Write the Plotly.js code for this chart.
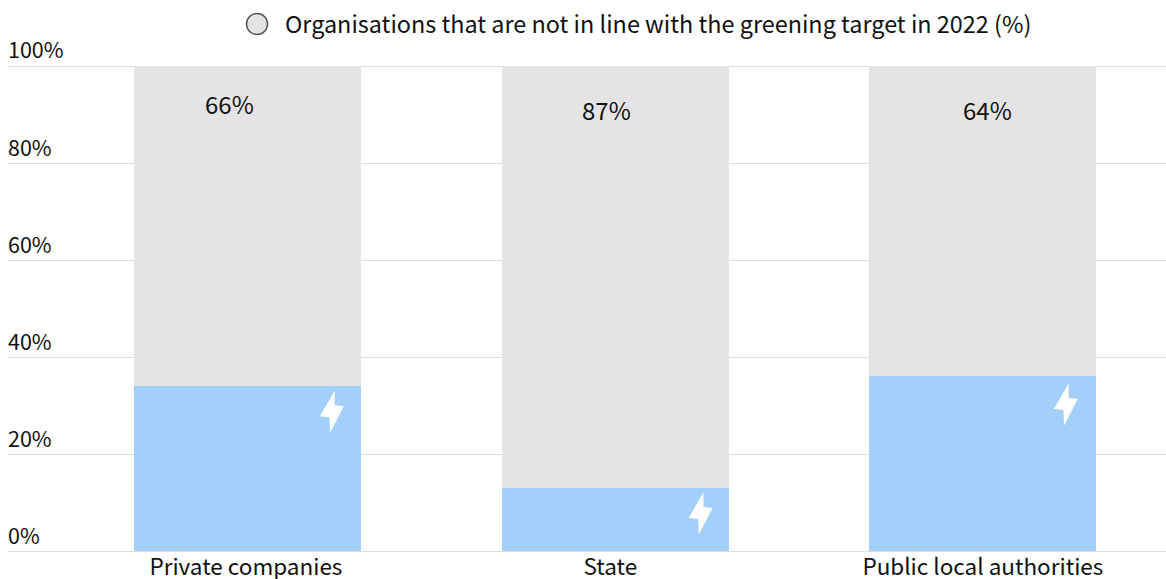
<!DOCTYPE html>
<html><head><meta charset="utf-8">
<script src="https://cdn.plot.ly/plotly-3.0.1.min.js"></script>
<style>html,body{margin:0;padding:0;background:#fff}#c{width:1166px;height:579px}</style>
</head><body><div id="c"></div>
<script>
const categories = ["Private companies", "State", "Public local authorities"];
const inLine = [34, 13, 36];
const notInLine = [66, 87, 64];
const yTicks = [0, 20, 40, 60, 80, 100];
const yTickText = ["0%", "20%", "40%", "60%", "80%", "100%"];
const legendText = "Organisations that are not in line with the greening target in 2022 (%)";
const labelShiftX = [-17.5, -8.5, 5];
const labelShiftY = [-37, -43, -43];
const catTickPos = [-0.004, 0.987, 2];
const boltDX = [-0.5, 0.5, -2];
const boltDY = [0, 0, -2.5];
const boltPts = [[87.8,-4.5],[73,-30],[82.5,-31],[83.2,-46.5],[97,-20],[87.8,-19]];
const FONT = '"Noto Sans CJK SC", "Noto Sans", sans-serif';

const traces = [
  {type:"bar", x:categories, y:inLine, marker:{color:"#a3cffb", line:{width:0}}, width:0.617, name:"In line", showlegend:false, hoverinfo:"skip"},
  {type:"bar", x:categories, y:notInLine, marker:{color:"#e4e4e4", line:{width:0}}, width:0.617, name:legendText, showlegend:false, hoverinfo:"skip"}
];
const yMin = -0.4, yMax = 100 + 66/4.85;
const py = p => (553 - p) / 553;
const annotations = categories.map((c,i)=>({
  x:c, y:100, xref:"x", yref:"y", text:notInLine[i]+"%", showarrow:false,
  xshift:labelShiftX[i], yshift:labelShiftY[i], yanchor:"middle",
  font:{family:FONT,size:24,color:"#111"}
}));
annotations.push({xref:"paper",yref:"paper",x:(282.5-8)/1158,y:py(22.5),xanchor:"left",yanchor:"middle",text:legendText,showarrow:false,font:{family:FONT,size:23.4,color:"#111"}});
const shapes = categories.map((c,i)=>({
  type:"path", xref:"x", yref:"y", xsizemode:"pixel", ysizemode:"pixel", xanchor:c, yanchor:inLine[i],
  path:"M "+boltPts.map(p=>(p[0]+boltDX[i])+" "+(p[1]+boltDY[i])).join(" L ")+" Z",
  fillcolor:"#fff", line:{width:0}, layer:"above"
}));
shapes.push({type:"circle",xref:"paper",yref:"paper",x0:(246.5-8)/1158,x1:(267.5-8)/1158,y0:py(34.5),y1:py(13.5),fillcolor:"#e4e4e4",line:{color:"#555",width:1.5}});
Plotly.newPlot("c",traces,{
  width:1166,height:579,barmode:"stack",showlegend:false,
  margin:{l:8,r:0,t:0,b:26},
  paper_bgcolor:"#fff",plot_bgcolor:"#fff",
  font:{family:FONT,size:22.5,color:"#111"},
  xaxis:{type:"category",range:[-0.651,2.498],tickmode:"array",tickvals:catTickPos,ticktext:categories,ticks:"",showgrid:false,zeroline:false,showline:false,tickfont:{family:FONT,size:22.5,color:"#111"},automargin:false,ticklabelstandoff:-2},
  yaxis:{range:[yMin,yMax],tickmode:"array",tickvals:yTicks,ticktext:yTickText,ticklabelposition:"inside top",ticks:"",gridcolor:"#dcdcdc",gridwidth:1,zeroline:false,showline:false,tickfont:{family:FONT,size:21.5,color:"#111"},automargin:false,layer:"above traces",ticklabelstandoff:-3},
  annotations,shapes
},{displayModeBar:false,staticPlot:true});
</script></body></html>
